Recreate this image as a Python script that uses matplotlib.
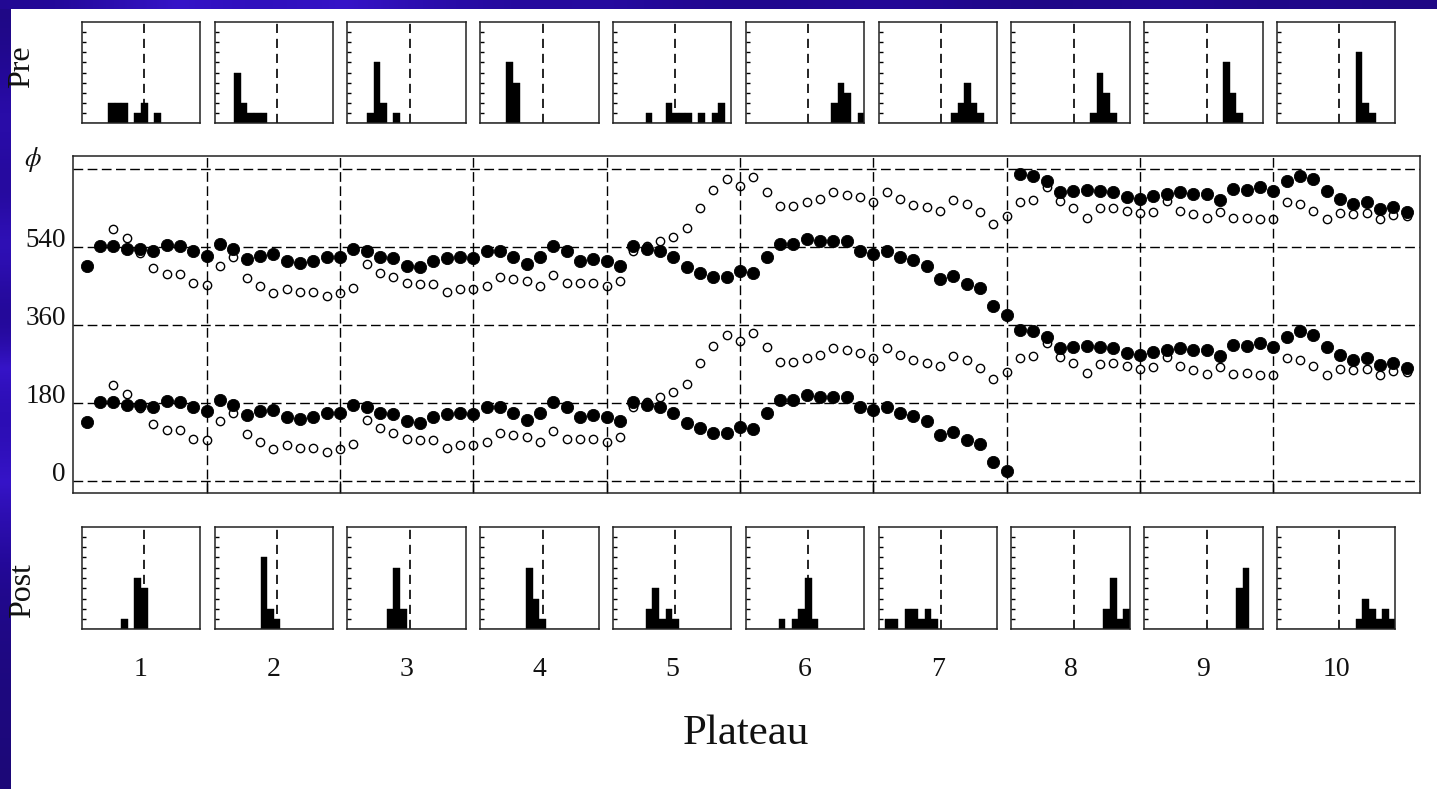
import numpy as np
import matplotlib
matplotlib.use("Agg")
import matplotlib.pyplot as plt
from matplotlib.colors import LinearSegmentedColormap

plt.rcParams['font.family'] = ['Liberation Serif', 'DejaVu Serif']
plt.rcParams['mathtext.fontset'] = 'stix'

# ---------------------------------------------------------------- data
plateau_labels = ["1", "2", "3", "4", "5", "6", "7", "8", "9", "10"]
trials = np.arange(1, 101)

# relative phase (deg) per trial, filled symbols
phase_filled = [
    136, 183, 183, 175, 175, 171, 185, 183, 171, 160,
    187, 175, 152, 160, 163, 148, 142, 148, 156, 157,
    175, 171, 156, 154, 137, 133, 148, 154, 157, 154,
    171, 171, 156, 140, 156, 183, 171, 148, 152, 148,
    137, 183, 175, 171, 156, 133, 121, 111, 111, 125,
    119, 157, 187, 187, 198, 194, 194, 194, 171, 163,
    171, 156, 150, 137, 106, 113, 94, 86, 44, 23,
    349, 345, 333, 306, 310, 312, 310, 306, 295, 291,
    298, 302, 306, 302, 302, 288, 314, 312, 318, 310,
    333, 345, 337, 310, 291, 279, 283, 268, 273, 260,
]

# relative phase (deg) per trial, open symbols
phase_open = [
    np.nan, np.nan, 221, 200, 167, 131, 117, 117, 96, 93,
    137, 156, 108, 90, 73, 83, 75, 75, 67, 73,
    85, 140, 121, 111, 96, 94, 94, 75, 83, 83,
    90, 111, 106, 102, 90, 116, 96, 96, 96, 90,
    102, 170, 182, 194, 204, 224, 271, 312, 337, 322,
    341, 308, 275, 275, 283, 291, 306, 301, 295, 283,
    306, 291, 278, 273, 264, 289, 279, 260, 234, 252,
    283, 288, 318, 286, 271, 248, 270, 271, 264, 258,
    262, 287, 264, 256, 247, 262, 247, 248, 244, 244,
    283, 279, 264, 244, 258, 256, 258, 244, 254, 252,
]

phase_ticks = [0, 180, 360, 540, 720]
phase_tick_labels = ["0", "180", "360", "540", ""]
plateau_edges = [10, 20, 30, 40, 50, 60, 70, 80, 90]

# histogram counts, 18 phase bins per plateau
hist_bins = np.arange(18)
pre_counts = [
    [0, 0, 0, 0, 2, 2, 2, 0, 1, 2, 0, 1, 0, 0, 0, 0, 0, 0],
    [0, 0, 0, 5, 2, 1, 1, 1, 0, 0, 0, 0, 0, 0, 0, 0, 0, 0],
    [0, 0, 0, 1, 6, 2, 0, 1, 0, 0, 0, 0, 0, 0, 0, 0, 0, 0],
    [0, 0, 0, 0, 6, 4, 0, 0, 0, 0, 0, 0, 0, 0, 0, 0, 0, 0],
    [0, 0, 0, 0, 0, 1, 0, 0, 2, 1, 1, 1, 0, 1, 0, 1, 2, 0],
    [0, 0, 0, 0, 0, 0, 0, 0, 0, 0, 0, 0, 0, 2, 4, 3, 0, 1],
    [0, 0, 0, 0, 0, 0, 0, 0, 0, 0, 0, 1, 2, 4, 2, 1, 0, 0],
    [0, 0, 0, 0, 0, 0, 0, 0, 0, 0, 0, 0, 1, 5, 3, 1, 0, 0],
    [0, 0, 0, 0, 0, 0, 0, 0, 0, 0, 0, 0, 6, 3, 1, 0, 0, 0],
    [0, 0, 0, 0, 0, 0, 0, 0, 0, 0, 0, 0, 7, 2, 1, 0, 0, 0],
]
post_counts = [
    [0, 0, 0, 0, 0, 0, 1, 0, 5, 4, 0, 0, 0, 0, 0, 0, 0, 0],
    [0, 0, 0, 0, 0, 0, 0, 7, 2, 1, 0, 0, 0, 0, 0, 0, 0, 0],
    [0, 0, 0, 0, 0, 0, 2, 6, 2, 0, 0, 0, 0, 0, 0, 0, 0, 0],
    [0, 0, 0, 0, 0, 0, 0, 6, 3, 1, 0, 0, 0, 0, 0, 0, 0, 0],
    [0, 0, 0, 0, 0, 2, 4, 1, 2, 1, 0, 0, 0, 0, 0, 0, 0, 0],
    [0, 0, 0, 0, 0, 1, 0, 1, 2, 5, 1, 0, 0, 0, 0, 0, 0, 0],
    [0, 1, 1, 0, 2, 2, 1, 2, 1, 0, 0, 0, 0, 0, 0, 0, 0, 0],
    [0, 0, 0, 0, 0, 0, 0, 0, 0, 0, 0, 0, 0, 0, 2, 5, 1, 2],
    [0, 0, 0, 0, 0, 0, 0, 0, 0, 0, 0, 0, 0, 0, 4, 6, 0, 0],
    [0, 0, 0, 0, 0, 0, 0, 0, 0, 0, 0, 0, 1, 3, 2, 1, 2, 1],
]
hist_ref_bin = 9.5

# ---------------------------------------------------------------- layout
W, H = 1437, 789
fig = plt.figure(figsize=(W / 100, H / 100), dpi=100)
fig.patch.set_facecolor("white")


def box(x0, y0, x1, y1):
    """Pixel box (top-left origin) -> figure fraction rect."""
    return [x0 / W, 1 - y1 / H, (x1 - x0) / W, (y1 - y0) / H]


# slide-style indigo frame along the left and top edges
bg = fig.add_axes([0, 0, 1, 1], zorder=-5)
bg.set_xlim(0, W)
bg.set_ylim(H, 0)
bg.axis("off")
indigo = LinearSegmentedColormap.from_list(
    "indigo", ["#1c0878", "#24099a", "#3614c8", "#2a0cb0", "#1e0884"])
left_strip = np.array([0.1, 0.2, 0.35, 0.3, 0.25, 0.45, 0.3, 0.2, 0.55,
                       0.75, 0.6, 0.4, 0.3, 0.15, 0.1, 0.05, 0.05, 0.0])[:, None]
top_strip = np.array([[0.2, 0.35, 0.5, 0.65, 0.55, 0.4, 0.3, 0.25, 0.3,
                       0.2, 0.15, 0.2, 0.25, 0.15, 0.1, 0.15, 0.2, 0.1,
                       0.15, 0.1]])
bg.imshow(left_strip, cmap=indigo, vmin=0, vmax=1, aspect="auto",
          extent=(0, 11, H, 0), interpolation="bicubic")
bg.imshow(top_strip, cmap=indigo, vmin=0, vmax=1, aspect="auto",
          extent=(0, W, 9, 0), interpolation="bicubic")

# ---------------------------------------------------------------- main phase panel
ax = fig.add_axes(box(73.3, 155.7, 1420, 493.3))
ax.set_xlim(0, 101)
ax.set_ylim(-29, 751)

filled = np.asarray(phase_filled, dtype=float)
opened = np.asarray(phase_open, dtype=float)
for shift in (0, 360):
    ax.plot(trials, opened + shift, linestyle="none", marker="o", ms=6.0,
            mfc="none", mec="black", mew=1.0, zorder=3)
for shift in (0, 360):
    ax.plot(trials, filled + shift, linestyle="none", marker="o", ms=8.8,
            mfc="black", mec="black", mew=0.6, zorder=4)

ax.set_yticks(phase_ticks, labels=phase_tick_labels)
ax.set_xticks(plateau_edges, labels=[])
ax.grid(True, color="black", linewidth=1.0, linestyle=(0, (7, 3.2)))
ax.set_axisbelow(True)
ax.tick_params(axis="y", length=0, pad=5.5, labelsize=19.5, labelcolor="#111111")
ax.tick_params(axis="x", direction="in", length=9, width=1.0, color="black")
for lab in ax.get_yticklabels():
    lab.set_verticalalignment("baseline")
for sp in ax.spines.values():
    sp.set_linewidth(1.1)
    sp.set_color("#222222")

fig.text(33 / W, 1 - 160 / H, r"$\phi$", ha="center", va="center",
         fontsize=19, color="#111111")

# ---------------------------------------------------------------- Pre / Post histograms
rows = [(pre_counts, 22.0, 123.0), (post_counts, 526.7, 629.3)]
for i in range(10):
    x0 = 81.7 + 132.8 * i
    for counts, y0, y1 in rows:
        h = fig.add_axes(box(x0, y0, x0 + 118.5, y1))
        h.bar(hist_bins, counts[i], width=1.0, align="edge",
              color="black", edgecolor="black", linewidth=0.3)
        h.axvline(hist_ref_bin, color="black", linewidth=1.2,
                  linestyle=(0, (5.5, 3.5)))
        h.set_xlim(0, 18)
        h.set_ylim(0, 10)
        h.set_xticks([])
        h.set_yticks(np.arange(1, 10), labels=[])
        h.tick_params(axis="y", direction="in", length=3, width=1.0)
        for sp in h.spines.values():
            sp.set_linewidth(1.1)
            sp.set_color("#222222")
    fig.text((x0 + 59.25) / W, 1 - 670 / H, plateau_labels[i],
             ha="center", va="center", fontsize=20, color="#111111")

fig.text(22 / W, 1 - 67 / H, "Pre", rotation=90, ha="center", va="center",
         fontsize=23, color="#111111")
fig.text(22.5 / W, 1 - 590 / H, "Post", rotation=90, ha="center", va="center",
         fontsize=23, color="#111111")
fig.text(746 / W, 1 - 734 / H, "Plateau", ha="center", va="center",
         fontsize=31, color="#111111")

fig.savefig("out.png", dpi=100, facecolor="white")
